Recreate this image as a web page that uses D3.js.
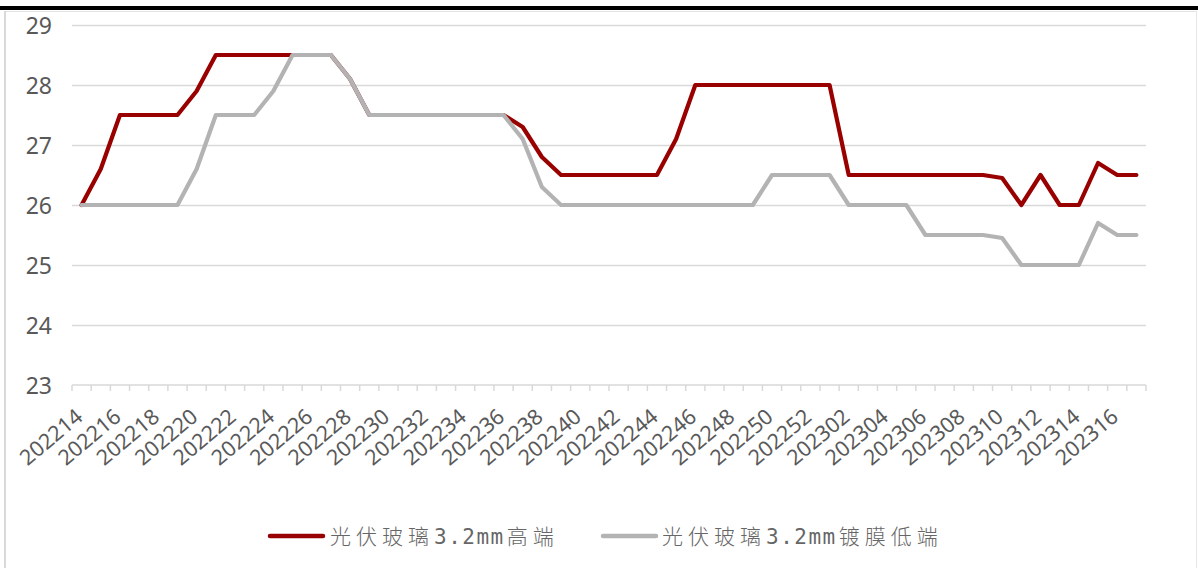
<!DOCTYPE html>
<html>
<head>
<meta charset="utf-8">
<script src="https://cdn.jsdelivr.net/npm/d3@7"></script>
<style>
  html, body { margin: 0; padding: 0; background: #fff; }
  svg { display: block; }
</style>
</head>
<body>
<svg id="chart" width="1198" height="568"></svg>
<script>
// Weekly price of PV glass (yuan/m²), week codes yyyyww
const weeks = [
  "202214","202215","202216","202217","202218","202219","202220","202221","202222","202223",
  "202224","202225","202226","202227","202228","202229","202230","202231","202232","202233",
  "202234","202235","202236","202237","202238","202239","202240","202241","202242","202243",
  "202244","202245","202246","202247","202248","202249","202250","202251","202252","202301",
  "202302","202303","202304","202305","202306","202307","202308","202309","202310","202311",
  "202312","202313","202314","202315","202316","202317"
];

const highEnd = [
  26, 26.6, 27.5, 27.5, 27.5, 27.5, 27.9, 28.5, 28.5, 28.5,
  28.5, 28.5, 28.5, 28.5, 28.1, 27.5, 27.5, 27.5, 27.5, 27.5,
  27.5, 27.5, 27.5, 27.3, 26.8, 26.5, 26.5, 26.5, 26.5, 26.5,
  26.5, 27.1, 28, 28, 28, 28, 28, 28, 28, 28,
  26.5, 26.5, 26.5, 26.5, 26.5, 26.5, 26.5, 26.5, 26.45, 26,
  26.5, 26, 26, 26.7, 26.5, 26.5
];

const coatedLow = [
  26, 26, 26, 26, 26, 26, 26.6, 27.5, 27.5, 27.5,
  27.9, 28.5, 28.5, 28.5, 28.1, 27.5, 27.5, 27.5, 27.5, 27.5,
  27.5, 27.5, 27.5, 27.1, 26.3, 26, 26, 26, 26, 26,
  26, 26, 26, 26, 26, 26, 26.5, 26.5, 26.5, 26.5,
  26, 26, 26, 26, 25.5, 25.5, 25.5, 25.5, 25.45, 25,
  25, 25, 25, 25.7, 25.5, 25.5
];

const yTicks = [23, 24, 25, 26, 27, 28, 29];
const tickLabels = weeks.filter((d, i) => i % 2 === 0);

const seriesColors = ["#990000", "#b3b3b3"];

const svg = d3.select("#chart");
const W = 1198, H = 568;
const plot = { left: 72, right: 1146, top: 25, bottom: 385 };

// frame
svg.append("rect").attr("x", 0).attr("y", 6).attr("width", W).attr("height", 4).attr("fill", "#000");
svg.append("line").attr("x1", 5).attr("x2", W - 1).attr("y1", 11.5).attr("y2", 11.5)
  .attr("stroke", "#e3e3e3").attr("stroke-width", 1);
svg.append("line").attr("x1", 5).attr("x2", 5).attr("y1", 11).attr("y2", H)
  .attr("stroke", "#d9d9d9").attr("stroke-width", 2);
svg.append("line").attr("x1", 1196.5).attr("x2", 1196.5).attr("y1", 11).attr("y2", H)
  .attr("stroke", "#e6e6e6").attr("stroke-width", 1);

const x = d3.scaleBand().domain(weeks).range([plot.left, plot.right]).padding(0);
const y = d3.scaleLinear().domain([23, 29]).range([plot.bottom, plot.top]);
const cx = d => x(d) + x.bandwidth() / 2;

// horizontal gridlines
const gridG = svg.append("g")
  .attr("transform", `translate(${plot.left},0)`)
  .call(d3.axisLeft(y).tickValues(yTicks.filter(v => v !== 23)).tickSize(-(plot.right - plot.left)).tickFormat(""));
gridG.select(".domain").remove();
gridG.selectAll("line").attr("stroke", "#d9d9d9").attr("stroke-width", 1.3);

// y labels
const yAxisG = svg.append("g")
  .attr("transform", `translate(${plot.left},0)`)
  .call(d3.axisLeft(y).tickValues(yTicks).tickFormat(d3.format("d")).tickSize(0).tickPadding(20));
yAxisG.select(".domain").remove();
yAxisG.selectAll("text")
  .attr("font-family", "'Noto Sans', 'Liberation Sans', sans-serif")
  .attr("font-size", 23)
  .attr("fill", "#595959")
  .attr("dy", "0.36em");

// x axis line with tick marks at category boundaries
const xAxisG = svg.append("g").attr("transform", `translate(0,${plot.bottom})`);
xAxisG.append("line").attr("x1", plot.left).attr("x2", plot.right).attr("y1", 0).attr("y2", 0)
  .attr("stroke", "#d9d9d9").attr("stroke-width", 1.5);
const boundaries = weeks.map(d => x(d)).concat([plot.right]);
xAxisG.selectAll("line.tk").data(boundaries).join("line")
  .attr("class", "tk")
  .attr("x1", d => d).attr("x2", d => d).attr("y1", 0).attr("y2", 6)
  .attr("stroke", "#d9d9d9").attr("stroke-width", 1.5);

// rotated category labels
svg.append("g").selectAll("text").data(tickLabels).join("text")
  .attr("transform", d => `translate(${cx(d) + 2.5},${plot.bottom + 34}) rotate(-40)`)
  .attr("text-anchor", "end")
  .attr("font-family", "'Noto Sans', 'Liberation Sans', sans-serif")
  .attr("font-size", 21.5)
  .attr("fill", "#595959")
  .text(d => d);

// lines
const line = d3.line().x((d, i) => cx(weeks[i])).y(d => y(d));
[highEnd, coatedLow].forEach((vals, k) => {
  svg.append("path")
    .datum(vals)
    .attr("d", line)
    .attr("fill", "none")
    .attr("stroke", seriesColors[k])
    .attr("stroke-width", 4.2)
    .attr("stroke-linejoin", "round")
    .attr("stroke-linecap", "round");
});

// legend
const legendItems = [
  { x0: 270, x1: 323, tx: 330, cjk1: "光伏玻璃", mid: "3.2mm", cjk2: "高端" },
  { x0: 603, x1: 656, tx: 662, cjk1: "光伏玻璃", mid: "3.2mm", cjk2: "镀膜低端" }
];
const legY = 536;
legendItems.forEach((it, k) => {
  svg.append("line")
    .attr("x1", it.x0).attr("x2", it.x1).attr("y1", legY).attr("y2", legY)
    .attr("stroke", seriesColors[k]).attr("stroke-width", 4.5).attr("stroke-linecap", "round");
  const t = svg.append("text")
    .attr("x", it.tx).attr("y", legY)
    .attr("dy", "0.36em")
    .attr("fill", "#666666")
    .attr("font-size", 21);
  t.append("tspan").attr("font-family", "'Noto Sans CJK SC', sans-serif")
    .attr("font-weight", 300).attr("letter-spacing", 5).text(it.cjk1);
  t.append("tspan").attr("font-family", "'DejaVu Sans Mono', monospace")
    .attr("letter-spacing", 1.5).text(it.mid);
  t.append("tspan").attr("font-family", "'Noto Sans CJK SC', sans-serif")
    .attr("font-weight", 300).attr("letter-spacing", 5).attr("dx", 2).text(it.cjk2);
});
</script>
</body>
</html>
